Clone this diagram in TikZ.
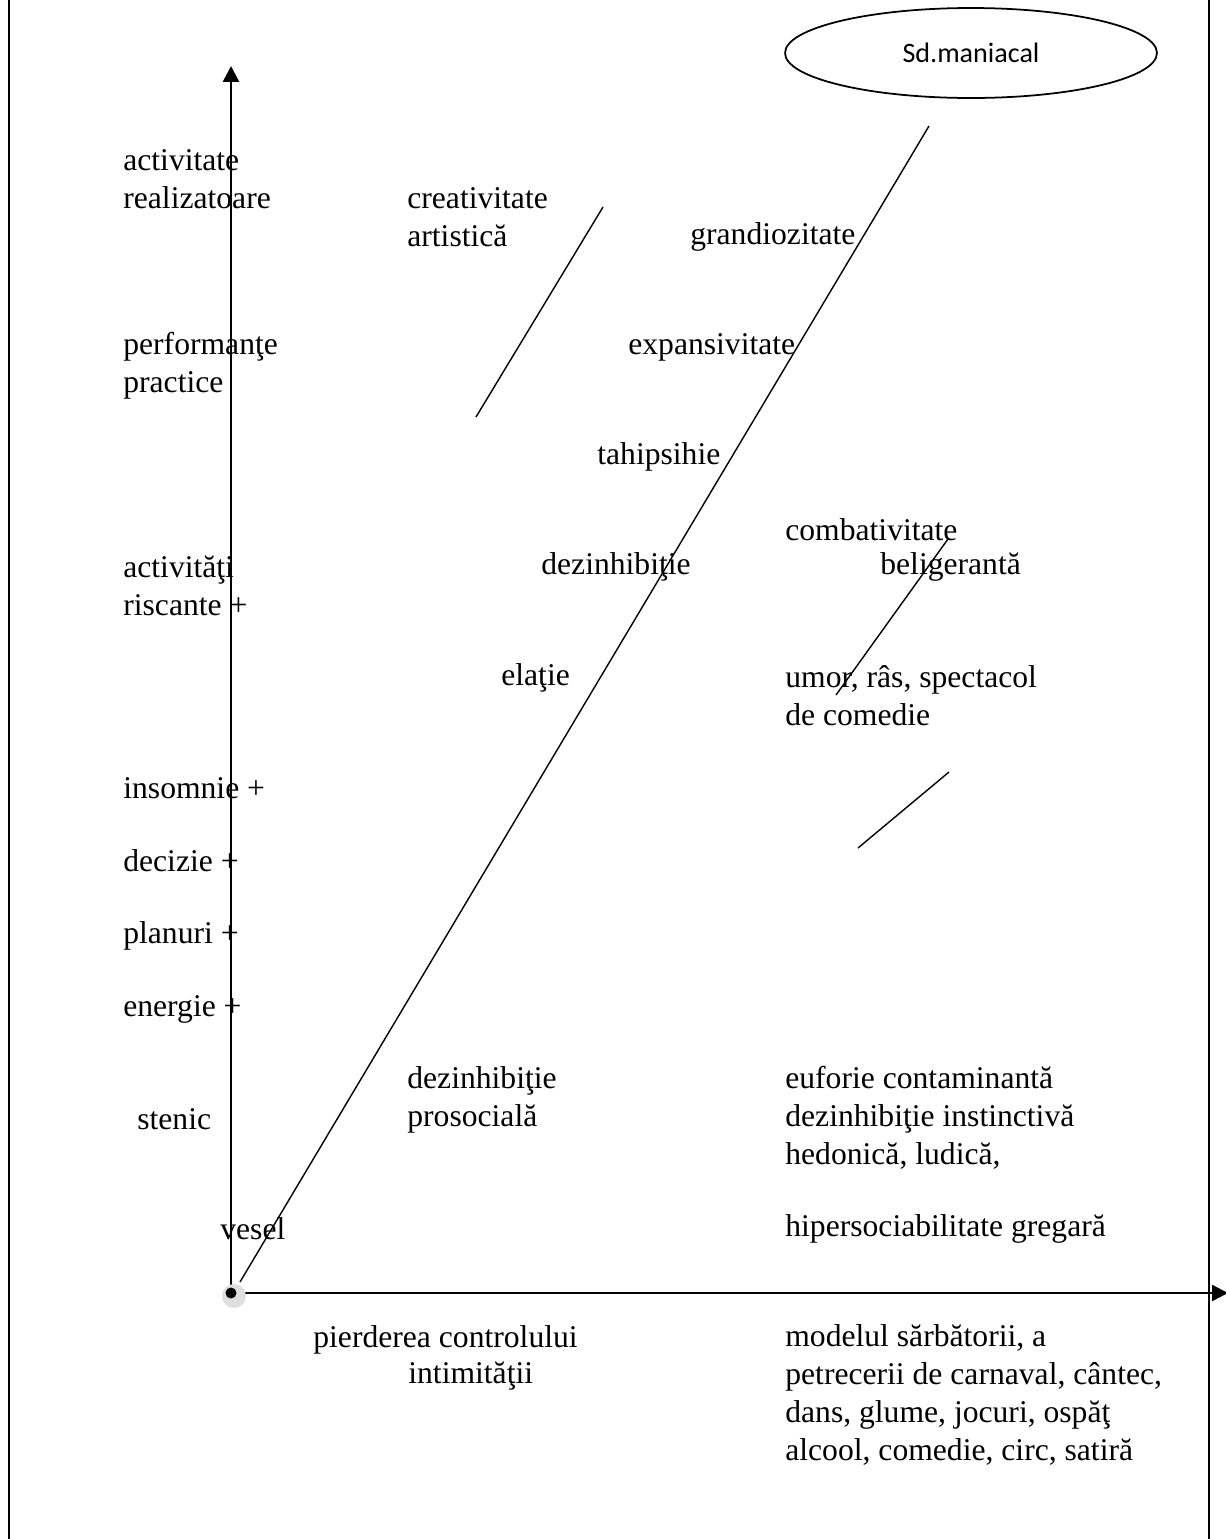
\documentclass[tikz,border=0pt]{standalone}
\usepackage{fontspec}
\setmainfont{Liberation Serif}
\newfontfamily\calibri{Carlito}
\usetikzlibrary{arrows.meta,shapes.geometric}

\tikzset{
  lbl/.style={anchor=west,inner sep=0pt,align=left,font=\fontsize{18}{21.5}\selectfont},
  axis/.style={line width=1.4pt,-{Triangle[length=9pt,width=9pt]}},
  stroke/.style={line width=0.8pt},
}

\begin{document}
\begin{tikzpicture}[x=0.02cm,y=-0.02cm]
  \useasboundingbox (0,0) rectangle (1225,1539);
  % frame
  \draw[line width=1.1pt] (9,-5) -- (9,1545);
  \draw[line width=1.1pt] (1209,-5) -- (1209,1545);
  % axes
  \coordinate (o) at (231,1293);
  \draw[axis] (231,1285) -- (231,66);
  \draw[axis] (240,1293) -- (1228,1293);
  \fill[gray!25] (234,1296) circle (12);
  \fill (o) circle (5.5);
  % diagonals
  \coordinate (d1) at (240,1282); \coordinate (d2) at (929,126);
  \coordinate (a1) at (476,417);  \coordinate (a2) at (603,207);
  \coordinate (b1) at (836,695);  \coordinate (b2) at (948,539);
  \coordinate (c1) at (858,848);  \coordinate (c2) at (949,772);
  \draw[stroke] (d1) -- (d2);
  \draw[stroke] (a1) -- (a2);
  \draw[stroke] (b1) -- (b2);
  \draw[stroke] (c1) -- (c2);
  \node[ellipse,draw,line width=1pt,minimum width=7.44cm,minimum height=1.8cm,
        font=\calibri\fontsize{16}{19}\selectfont] (sd) at (971,53) {Sd.maniacal};
  % left column
  \node[lbl] (act)   at (123,179)  {activitate\\realizatoare};
  \node[lbl] (perf)  at (123,366)  {performanţe\\practice};
  \node[lbl] (risc)  at (123,586)  {activităţi\\riscante +};
  \foreach \t/\y [count=\i] in {insomnie +/788,decizie +/861,planuri +/936,energie +/1009}
    \node[lbl] (plus\i) at (123,\y) {\t};
  \node[lbl] (sten)  at (137,1119) {stenic};
  \node[lbl] (vesel) at (220,1229) {vesel};
  % middle
  \node[lbl] (crea)  at (407,217)  {creativitate\\artistică};
  \node[lbl] (grand) at (690,237)  {grandiozitate};
  \node[lbl] (expa)  at (628,347)  {expansivitate};
  \node[lbl] (tahi)  at (597,457)  {tahipsihie};
  \node[lbl] (dezi)  at (541,567)  {dezinhibiţie};
  \node[lbl] (elat)  at (501,678)  {elaţie};
  \node[lbl] (pros)  at (407,1100) {dezinhibiţie\\prosocială};
  % right
  \node[lbl] (comb)  at (785,530)  {combativitate};
  \node[lbl] (beli)  at (880,567)  {beligerantă};
  \node[lbl] (umor)  at (785,696)  {umor, râs, spectacol\\de comedie};
  \node[lbl] (eufo)  at (785,1118) {euforie contaminantă\\dezinhibiţie instinctivă\\hedonică, ludică,};
  \node[lbl] (hiper) at (785,1229) {hipersociabilitate gregară};
  % below the axis
  \node[lbl] (pierd) at (313,1340) {pierderea controlului};
  \node[lbl] (intim) at (408,1376) {intimităţii};
  \node[lbl] (model) at (785,1395) {modelul sărbătorii, a\\petrecerii de carnaval, cântec,\\dans, glume, jocuri, ospăţ\\alcool, comedie, circ, satiră};
\end{tikzpicture}
\end{document}
